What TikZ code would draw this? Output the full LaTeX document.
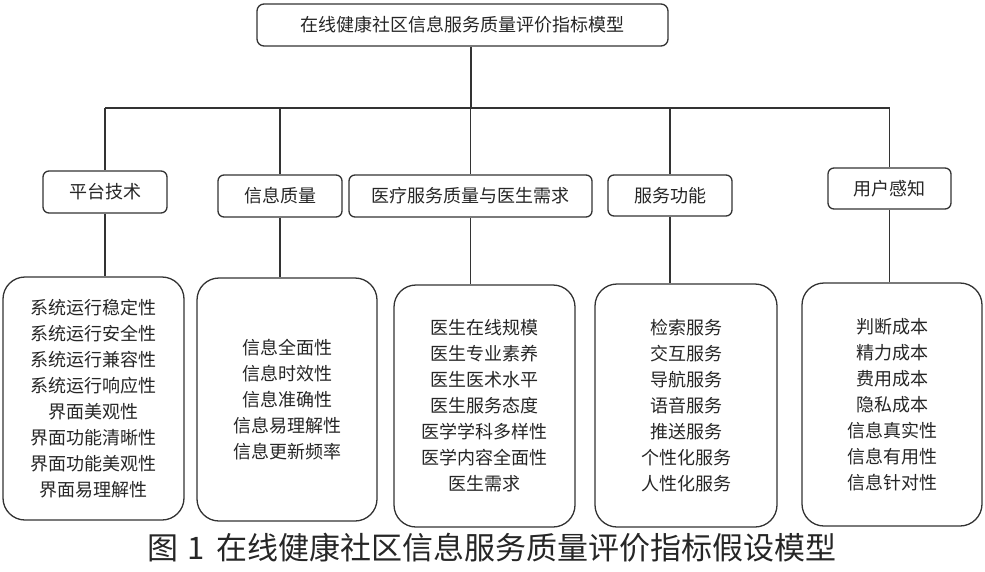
\documentclass[tikz,border=0pt]{standalone}
\usepackage{fontspec}
\newfontfamily\cjk{Noto Sans CJK SC}
\tikzset{
  line/.style={draw=black!80, line width=1.3},
  topbox/.style={line, rounded corners=7, minimum height=42, inner sep=0, text=black!85},
  catbox/.style={line, rounded corners=6, minimum height=42, inner sep=0, text=black!85},
  itembox/.style={line, rounded corners=22, minimum width=181, minimum height=243,
    align=center, inner sep=0, text=black!85},
}
\begin{document}
\begin{tikzpicture}[x=1pt, y=-1pt, font=\cjk\fontsize{18}{26}\selectfont]
    \useasboundingbox (0,0) rectangle (985,571);
    % top
    \node (top) at (462.5,25) [topbox, minimum width=411] {在线健康社区信息服务质量评价指标模型};
    % categories
    \node (c1) at (105,192) [catbox, minimum width=124] {平台技术};
    \node (c2) at (280,196) [catbox, minimum width=124] {信息质量};
    \node (c3) at (470.5,196) [catbox, minimum width=243] {医疗服务质量与医生需求};
    \node (c4) at (670,195.5) [catbox, minimum width=124, minimum height=41] {服务功能};
    \node (c5) at (889.5,188.5) [catbox, minimum width=123, minimum height=41] {用户感知};
    % items
    \node (b1) at (93.5,398.5) [itembox] {系统运行稳定性\\系统运行安全性\\系统运行兼容性\\系统运行响应性\\界面美观性\\界面功能清晰性\\界面功能美观性\\界面易理解性};
    \node (b2) at (287,399.5) [itembox, minimum width=180] {信息全面性\\信息时效性\\信息准确性\\信息易理解性\\信息更新频率};
    \node (b3) at (484.5,406) [itembox, minimum height=242] {医生在线规模\\医生专业素养\\医生医术水平\\医生服务态度\\医学学科多样性\\医学内容全面性\\医生需求};
    \node (b4) at (686,405.5) [itembox, minimum width=182] {检索服务\\交互服务\\导航服务\\语音服务\\推送服务\\个性化服务\\人性化服务};
    \node (b5) at (892,404.5) [itembox, minimum width=180] {判断成本\\精力成本\\费用成本\\隐私成本\\信息真实性\\信息有用性\\信息针对性};
    % connectors
    \coordinate (bus) at (0,108);
    \draw [line] ([xshift=8.5]top.south) -- ([xshift=8.5]top.south |- bus);
    \draw [line] (c1.north |- bus) -- (c5.north |- bus);
    \foreach \n in {1,...,5} {
        \draw [line] (c\n.north |- bus) -- (c\n.north);
        \draw [line] (c\n.south) -- (c\n.south |- b\n.north);
    }
    % caption
    \node (cap) at (492,548) [font=\cjk\fontsize{31}{31}\selectfont, text=black!85] {图\hspace{9pt}1\hspace{12pt}在线健康社区信息服务质量评价指标假设模型};
\end{tikzpicture}
\end{document}
